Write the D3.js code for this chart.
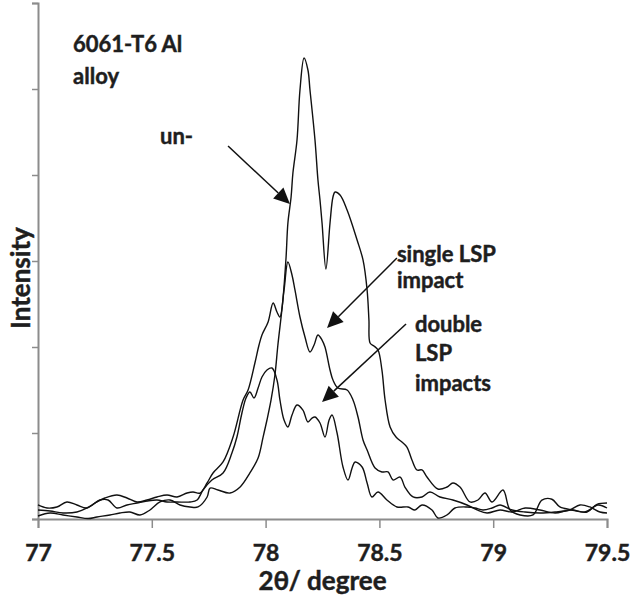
<!DOCTYPE html>
<html lang="en">
<head>
<meta charset="UTF-8">
<title>6061-T6 Al alloy XRD peak</title>
<script src="https://d3js.org/d3.v7.min.js"></script>
<style>
  body { margin: 0; background: #fff; }
  svg text { font-family: Lato, "Open Sans", sans-serif; font-weight: bold; fill: #1e1e1e; stroke: #1e1e1e; stroke-width: 0.45px; }
</style>
</head>
<body>
<svg id="chart" width="630" height="600"></svg>
<script>
// --- data (2theta in degrees, intensity in counts) ---
const xTicks = [77, 77.5, 78, 78.5, 79, 79.5];
const yTicks = [0, 1000, 2000, 3000, 4000, 5000, 6000];

const unimpacted = [
  [77.000, 35], [77.053, 70], [77.110, 47], [77.171, 23], [77.220, 5], [77.259, 23],
  [77.316, 47], [77.360, 70], [77.404, 81], [77.448, 47], [77.492, 105], [77.536, 198],
  [77.580, 221], [77.624, 163], [77.668, 140], [77.703, 140], [77.743, 256], [77.756, 360],
  [77.791, 337], [77.844, 302], [77.888, 372], [77.931, 535], [77.967, 709], [77.989, 953],
  [78.006, 1151], [78.024, 1384], [78.041, 1674], [78.054, 2023], [78.076, 2547], [78.090, 3047],
  [78.098, 3442], [78.112, 3744], [78.120, 4023], [78.138, 4407], [78.151, 4988], [78.169, 5360],
  [78.186, 5221], [78.195, 4988], [78.217, 4407], [78.230, 3942], [78.239, 3709], [78.248, 3442],
  [78.265, 2907], [78.283, 3442], [78.296, 3744], [78.305, 3802], [78.327, 3767], [78.358, 3593],
  [78.402, 3244], [78.428, 3012], [78.446, 2663], [78.454, 2314], [78.459, 2047], [78.476, 2012],
  [78.494, 1965], [78.511, 1733], [78.525, 1384], [78.547, 1070], [78.573, 953], [78.599, 895],
  [78.621, 837], [78.643, 686], [78.665, 570], [78.687, 570], [78.709, 488], [78.757, 349],
  [78.797, 372], [78.823, 419], [78.854, 372], [78.898, 198], [78.933, 221], [78.964, 302],
  [78.995, 198], [79.043, 337], [79.074, 105], [79.118, 47], [79.175, 47], [79.214, 220],
  [79.258, 230], [79.293, 140], [79.351, 105], [79.412, 81], [79.456, 170], [79.500, 186]
];

const singleLSP = [
  [77.000, 105], [77.053, 93], [77.110, 70], [77.171, 81], [77.215, 128], [77.259, 198],
  [77.294, 244], [77.347, 279], [77.391, 244], [77.435, 198], [77.479, 221], [77.523, 256],
  [77.567, 279], [77.611, 256], [77.655, 302], [77.681, 314], [77.712, 302], [77.743, 419],
  [77.769, 535], [77.813, 663], [77.857, 953], [77.901, 1384], [77.923, 1500], [77.953, 1814],
  [77.971, 2023], [77.984, 2140], [78.011, 2291], [78.033, 2512], [78.050, 2407], [78.063, 2349],
  [78.081, 2663], [78.098, 2988], [78.116, 2837], [78.129, 2663], [78.151, 2349], [78.173, 2116],
  [78.195, 1942], [78.213, 2023], [78.230, 2140], [78.248, 2081], [78.261, 2000], [78.283, 1733],
  [78.296, 1616], [78.318, 1523], [78.358, 1500], [78.384, 1384], [78.406, 1186], [78.428, 919],
  [78.446, 802], [78.481, 593], [78.511, 547], [78.538, 547], [78.560, 453], [78.591, 488],
  [78.612, 372], [78.648, 256], [78.687, 256], [78.722, 314], [78.766, 256], [78.823, 221],
  [78.885, 163], [78.929, 105], [78.973, 70], [79.030, 105], [79.083, 81], [79.140, 128],
  [79.206, 105], [79.272, 70], [79.337, 105], [79.403, 81], [79.460, 163], [79.500, 128]
];

const doubleLSP = [
  [77.000, 163], [77.040, 128], [77.083, 140], [77.127, 198], [77.171, 163], [77.215, 128],
  [77.272, 221], [77.308, 221], [77.347, 128], [77.391, 163], [77.435, 186], [77.479, 209],
  [77.523, 221], [77.567, 198], [77.611, 198], [77.668, 198], [77.699, 221], [77.725, 337],
  [77.764, 453], [77.813, 535], [77.852, 767], [77.874, 953], [77.896, 1233], [77.914, 1407],
  [77.931, 1477], [77.949, 1407], [77.967, 1523], [77.984, 1651], [78.006, 1733], [78.028, 1756],
  [78.050, 1616], [78.063, 1384], [78.081, 1151], [78.098, 1070], [78.116, 1209], [78.138, 1326],
  [78.164, 1267], [78.186, 1128], [78.204, 1174], [78.217, 1186], [78.239, 1116], [78.261, 953],
  [78.279, 1151], [78.292, 1209], [78.314, 1000], [78.340, 605], [78.362, 453], [78.380, 593],
  [78.393, 663], [78.424, 605], [78.446, 419], [78.467, 256], [78.494, 314], [78.533, 221],
  [78.577, 140], [78.626, 140], [78.656, 105], [78.687, 163], [78.731, 105], [78.757, 12],
  [78.797, 47], [78.832, 128], [78.885, 140], [78.920, 128], [78.955, 105], [78.995, 128],
  [79.030, 163], [79.083, 105], [79.140, 81], [79.206, 70], [79.272, 81], [79.337, 105],
  [79.381, 163], [79.425, 140], [79.469, 81], [79.500, 70]
];

// annotation labels and arrows (positions in data units)
const notes = [
  { lines: ["6061-T6 Al", "alloy"], x: 77.154, y: 5430, lh: 31.5 },
  { lines: ["un-"], x: 77.536, y: 4360, lh: 0 },
  { lines: ["single LSP", "impact"], x: 78.577, y: 2990, lh: 26.5 },
  { lines: ["double", "LSP", "impacts"], x: 78.656, y: 2175, lh: 29.5 }
];
const arrows = [
  { from: [77.835, 4337], to: [78.107, 3663] },
  { from: [78.577, 3035], to: [78.270, 2221] },
  { from: [78.617, 2267], to: [78.248, 1360] }
];

// --- layout ---
const margin = { top: 3, right: 23, bottom: 81, left: 38 };
const svg = d3.select("#chart");
const width = 630 - margin.left - margin.right;
const height = 600 - margin.top - margin.bottom;
const g = svg.append("g").attr("transform", `translate(${margin.left},${margin.top})`);

const x = d3.scaleLinear().domain([77, 79.5]).range([0, width]);
const y = d3.scaleLinear().domain([0, 6000]).range([height, 0]);

const axisColor = "#8c8c8c";

// y axis: ticks, no labels
const yAxis = g.append("g")
  .call(d3.axisLeft(y).tickValues(yTicks).tickSize(6).tickFormat(""));
yAxis.select(".domain").attr("stroke", axisColor).attr("stroke-width", 2);
yAxis.selectAll(".tick line").attr("stroke", axisColor).attr("stroke-width", 1.5);

// x axis
const xAxis = g.append("g")
  .attr("transform", `translate(0,${height})`)
  .call(d3.axisBottom(x).tickValues(xTicks).tickSize(9).tickPadding(17).tickFormat(d => d));
xAxis.select(".domain").attr("stroke", axisColor).attr("stroke-width", 2);
xAxis.selectAll(".tick line").attr("stroke", axisColor).attr("stroke-width", 1.5);
xAxis.selectAll(".tick text")
  .attr("fill", "#1e1e1e")
  .style("font-family", "Lato, 'Open Sans', sans-serif")
  .style("font-weight", "bold")
  .style("font-size", "23px");

// axis titles
svg.append("text")
  .attr("x", margin.left + width / 2)
  .attr("y", 590)
  .attr("text-anchor", "middle")
  .style("font-size", "26px")
  .text("2θ/ degree");

svg.append("text")
  .attr("transform", "translate(30,278) rotate(-90)")
  .attr("text-anchor", "middle")
  .style("font-size", "26px")
  .text("Intensity");

// curves
const line = d3.line()
  .x(d => x(d[0]))
  .y(d => y(d[1]))
  .curve(d3.curveCatmullRom.alpha(0.5));

[unimpacted, singleLSP, doubleLSP].forEach(series => {
  g.append("path")
    .datum(series)
    .attr("fill", "none")
    .attr("stroke", "#111")
    .attr("stroke-width", 1.4)
    .attr("d", line);
});

// annotation text
notes.forEach(n => {
  const t = g.append("text")
    .attr("x", x(n.x))
    .attr("y", y(n.y))
    .style("font-size", "22px");
  n.lines.forEach((s, i) => {
    t.append("tspan")
      .attr("x", x(n.x))
      .attr("dy", i === 0 ? 0 : n.lh)
      .text(s);
  });
});

// arrows with filled heads
const headLen = 16, headHalf = 7.5;
arrows.forEach(a => {
  const x1 = x(a.from[0]), y1 = y(a.from[1]);
  const x2 = x(a.to[0]), y2 = y(a.to[1]);
  const ang = Math.atan2(y2 - y1, x2 - x1);
  const bx = x2 - headLen * Math.cos(ang), by = y2 - headLen * Math.sin(ang);
  g.append("line")
    .attr("x1", x1).attr("y1", y1)
    .attr("x2", bx).attr("y2", by)
    .attr("stroke", "#111")
    .attr("stroke-width", 1.5);
  const px = -Math.sin(ang) * headHalf, py = Math.cos(ang) * headHalf;
  g.append("path")
    .attr("d", `M${x2},${y2}L${bx + px},${by + py}L${bx - px},${by - py}Z`)
    .attr("fill", "#111");
});
</script>
</body>
</html>
